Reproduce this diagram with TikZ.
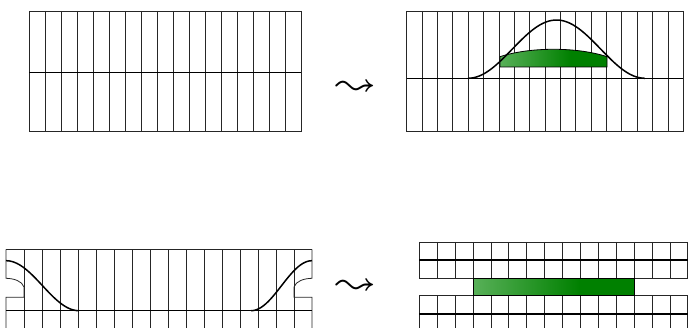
\documentclass[tikz,border=0pt]{standalone}
\usepackage{latexsym}
\newcommand{\boldsquig}{\mbox{\mathversion{bold}$\leadsto$}}
\definecolor{lgreen}{RGB}{88,176,88}
\definecolor{dgreen}{RGB}{0,128,0}
\pgfdeclarehorizontalshading{greensh}{100bp}{color(0bp)=(lgreen); color(25bp)=(lgreen); color(58bp)=(dgreen); color(100bp)=(dgreen)}
\begin{document}
\begin{tikzpicture}[x=1pt,y=-1pt,
  gridline/.style={line width=0.8pt, black!85},
  thickline/.style={line width=1.5pt, black},
  greenbox/.style={draw=black, line width=0.8pt, shading=greensh},
  squig/.style={scale=3.4, inner sep=0pt}]
\useasboundingbox (0,0) rectangle (688,328);
\clip (0,0) rectangle (688,328);

% ---------- top-left panel ----------
\foreach \i in {0,...,17} \draw[gridline] ({29.3+16*\i},11) -- ({29.3+16*\i},131.7);
\draw[gridline] (29.3,11) -- (301.3,11);
\draw[gridline] (29.3,131.7) -- (301.3,131.7);
\draw[thickline] (29.3,72.3) -- (301.3,72.3);

% ---------- top-right panel ----------
\foreach \i in {0,...,18} \draw[gridline] ({406.7+15.37*\i},11) -- ({406.7+15.37*\i},131.7);
\draw[gridline] (406.7,11) -- (683.4,11);
\draw[gridline] (406.7,131.7) -- (683.4,131.7);
\draw[thickline] (406.7,78.3) -- (683.4,78.3);
\draw[greenbox] (500,67) -- (500,56.7) .. controls (530,46.8) and (577,46.8) .. (607,56.7) -- (607,67) -- cycle;
\draw[thickline] plot[domain=0:1, samples=60, smooth] ({468+177*\x},{78.3-29.15*(1-cos(360*\x))});

% ---------- arrows ----------
\node[squig] (arrA) at (356,88) {\boldsquig};
\node[squig] (arrB) at (356,287) {\boldsquig};

% ---------- bottom-left panel ----------
\foreach \i in {1,...,16} \draw[gridline] ({6+18*\i},249.3) -- ({6+18*\i},335);
\draw[gridline] (6,249.3) -- (312,249.3);
\draw[gridline] (6,249.3) -- (6,278.3) .. controls (14,278.5) and (22,281) .. (24,287) -- (24,297.3) -- (6,297.3) -- (6,335);
\draw[gridline] (312,249.3) -- (312,278.3) .. controls (304,278.5) and (296,281) .. (294,287) -- (294,297.3) -- (312,297.3) -- (312,335);
\draw[thickline] (6,310.7) -- (312,310.7);
\draw[thickline] plot[domain=0:1, samples=40, smooth] ({6+73*\x},{260.7+25*(1-cos(180*\x))});
\draw[thickline] plot[domain=0:1, samples=40, smooth] ({312-61*\x},{260.7+25*(1-cos(180*\x))});

% ---------- bottom-right panel ----------
\foreach \i in {0,...,15} {
  \draw[gridline] ({419.3+17.9*\i},242) -- ({419.3+17.9*\i},278.3);
  \draw[gridline] ({419.3+17.9*\i},295.3) -- ({419.3+17.9*\i},335);
}
\draw[gridline] (419.3,242) -- (690,242);
\draw[gridline] (419.3,278.3) -- (690,278.3);
\draw[gridline] (419.3,295.3) -- (690,295.3);
\draw[thickline] (419.3,260) -- (690,260);
\draw[thickline] (419.3,314) -- (690,314);
\draw[greenbox] (473.3,278.3) rectangle (634.3,295.3);
\end{tikzpicture}
\end{document}
